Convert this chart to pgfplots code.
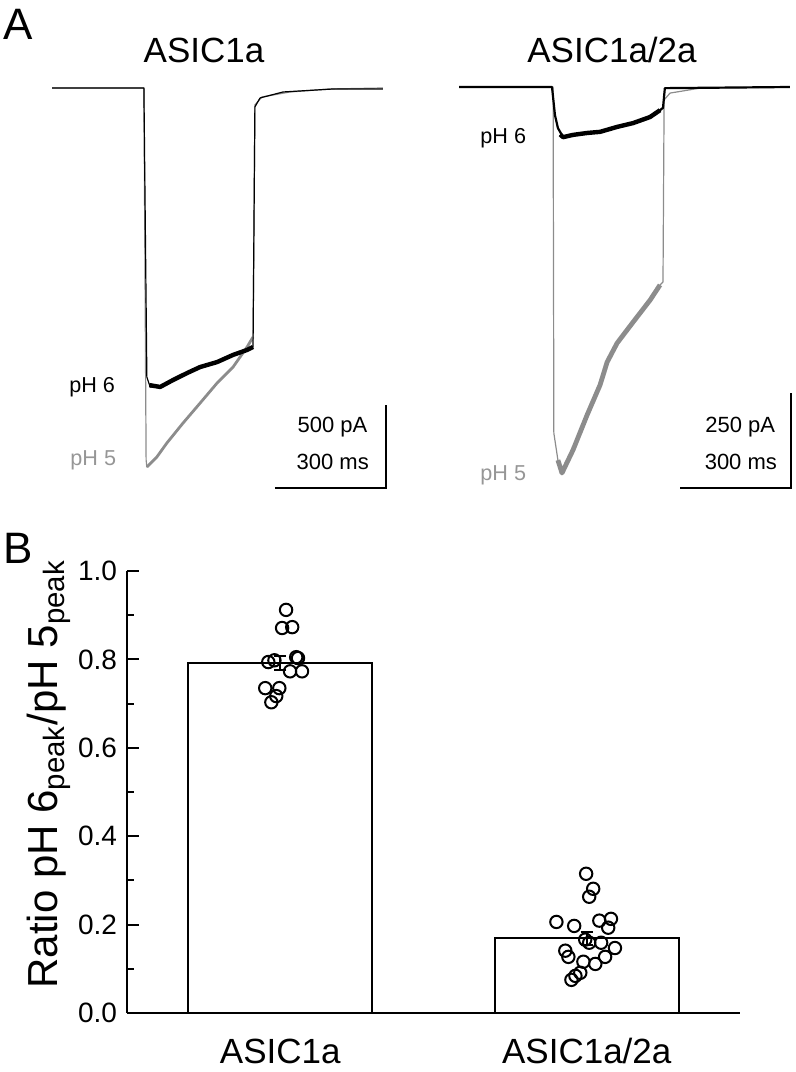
\documentclass[border=0pt]{standalone}
\usepackage{fontspec}
\setmainfont{Liberation Sans}
\usepackage{pgfplots}
\usepackage{pgfplotstable}
\pgfplotsset{compat=1.18}
\definecolor{tracegray}{RGB}{140,140,140}
\definecolor{labelgray}{RGB}{150,150,150}

% panel B: bar means (ratio pH 6 peak / pH 5 peak) and SEM
\pgfplotstableread{
x y e
1 0.792 0.016
2 0.169 0.015
}\barsdata

% single cells
\pgfplotstableread{
x y
1.019 0.912
1.006 0.871
1.039 0.873
0.961 0.794
0.981 0.798
1.052 0.805
1.058 0.803
1.032 0.773
1.071 0.773
0.951 0.735
0.997 0.735
0.987 0.717
0.971 0.703
1.998 0.315
2.021 0.281
2.008 0.263
1.901 0.206
1.959 0.197
2.041 0.209
2.079 0.213
2.070 0.193
1.995 0.166
2.008 0.159
2.047 0.159
2.092 0.147
1.930 0.141
1.940 0.127
1.989 0.116
2.060 0.127
2.028 0.111
1.979 0.091
1.963 0.084
1.950 0.075
}\cellsdata

\begin{document}
\begin{tikzpicture}
\useasboundingbox (0,0) rectangle (398pt,536pt);

\node[font=\fontsize{22}{22}\selectfont] at (9pt,524pt) {A};
\node[font=\fontsize{22}{22}\selectfont] at (9pt,262pt) {B};
\node[font=\fontsize{17.5}{17.5}\selectfont] at (102pt,511pt) {ASIC1a};
\node[font=\fontsize{17.5}{17.5}\selectfont] at (306pt,511pt) {ASIC1a/2a};

% ---- ASIC1a traces (ms, pA)
\begin{axis}[at={(20pt,286pt)}, anchor=south west, scale only axis,
  width=180pt, height=220pt,
  xmin=-283.8, xmax=689.2, ymin=-2482, ymax=168.7,
  hide axis, clip=false]
\addplot[tracegray, line width=0.6pt, line join=round] coordinates {
  (-251,0) (-3,0) (3,-2241) (5,-2283) (32,-2223) (59,-2139) (103,-2018)
  (149,-1898) (195,-1777) (238,-1681) (276,-1560) (292,-1500)
  (297,-102) (316,-54) (392,-24) (500,-6) (643,0)};
\addplot[tracegray, line width=1.4pt, line join=round] coordinates {
  (5,-2283) (32,-2223) (59,-2139) (103,-2018)
  (149,-1898) (195,-1777) (238,-1681) (276,-1560) (292,-1500)};
\addplot[black, line width=0.6pt, line join=round] coordinates {
  (-251,0) (-3,0) (5,-1741) (14,-1801) (41,-1801) (76,-1759) (114,-1717)
  (149,-1681) (195,-1651) (238,-1608) (276,-1578) (292,-1560)
  (297,-114) (311,-60) (373,-24) (508,-6) (643,-6)};
\addplot[black, line width=2.2pt, line join=round] coordinates {
  (12,-1790) (41,-1801) (76,-1759) (114,-1717)
  (149,-1681) (195,-1651) (238,-1608) (276,-1578) (292,-1560)};
% scale bar 300 ms / 500 pA
\addplot[black, line width=0.75pt] coordinates {(351,-2410) (651,-2410) (651,-1910)};
\node[anchor=east, font=\fontsize{10.8}{10.8}\selectfont] at (axis cs:-62,-1801) {pH 6};
\node[anchor=east, font=\fontsize{10.8}{10.8}\selectfont, text=labelgray] at (axis cs:-59,-2241) {pH 5};
\node[anchor=east, font=\fontsize{11}{11}\selectfont] at (axis cs:620,-2042) {500 pA};
\node[anchor=east, font=\fontsize{11}{11}\selectfont] at (axis cs:624,-2253) {300 ms};
\end{axis}

% ---- ASIC1a/2a traces (ms, pA)
\begin{axis}[at={(220pt,286pt)}, anchor=south west, scale only axis,
  width=178pt, height=220pt,
  xmin=-302.7, xmax=659.5, ymin=-1087, ymax=71.1,
  hide axis, clip=false]
\addplot[tracegray, line width=0.6pt, line join=round] coordinates {
  (-251,0) (3,0) (5,-911) (16,-982) (27,-1016) (57,-955) (95,-863)
  (130,-784) (149,-724) (176,-674) (219,-619) (265,-561) (292,-521) (300,-513)
  (303,-34) (319,-16) (400,-3) (643,0)};
\addplot[tracegray, line width=2.4pt, line join=round] coordinates {
  (16,-982) (27,-1016) (57,-955) (95,-863)
  (130,-784) (149,-724) (176,-674) (219,-619) (265,-561) (292,-521)};
\addplot[black, line width=1.1pt, line join=round] coordinates {
  (-251,0) (0,0) (8,-74) (16,-108) (30,-132) (57,-126) (95,-121)
  (130,-118) (176,-105) (219,-95) (265,-79) (292,-61) (300,-55)
  (305,-3) (643,0)};
\addplot[black, line width=2.2pt, line join=round] coordinates {
  (22,-125) (30,-132) (57,-126) (95,-121)
  (130,-118) (176,-105) (219,-95) (265,-79) (292,-61)};
% scale bar 300 ms / 250 pA
\addplot[black, line width=0.75pt] coordinates {(346,-1055) (646,-1055) (646,-805)};
\node[anchor=east, font=\fontsize{10.8}{10.8}\selectfont] at (axis cs:-51,-134) {pH 6};
\node[anchor=east, font=\fontsize{10.8}{10.8}\selectfont, text=labelgray] at (axis cs:-51,-1021) {pH 5};
\node[anchor=east, font=\fontsize{11}{11}\selectfont] at (axis cs:622,-895) {250 pA};
\node[anchor=east, font=\fontsize{11}{11}\selectfont] at (axis cs:627,-987) {300 ms};
\end{axis}

% ---- panel B
\begin{axis}[at={(63.5pt,29.5pt)}, anchor=south west, scale only axis,
  width=306.5pt, height=221pt,
  xmin=0.5, xmax=2.5, ymin=0, ymax=1,
  axis lines*=left, axis line style={line width=1pt},
  tick align=inside,
  ytick={0,0.2,0.4,0.6,0.8,1.0},
  minor ytick={0.1,0.3,0.5,0.7,0.9},
  major tick length=6pt, minor tick length=3.5pt,
  every tick/.style={black, line width=1pt},
  xtick={1,2}, xticklabels={ASIC1a,ASIC1a/2a},
  x tick style={draw=none},
  /pgf/number format/assume math mode=true,
  tick label style={font=\fontsize{14}{14}\selectfont},
  yticklabel style={xshift=-1.5pt, /pgf/number format/.cd, fixed, fixed zerofill, precision=1},
  xticklabel style={font=\fontsize{17.5}{17.5}\selectfont, anchor=base, yshift=-25pt},
  ylabel={Ratio pH 6\textsubscript{peak}/pH 5\textsubscript{peak}},
  ylabel style={font=\fontsize{21}{21}\selectfont, at={(axis description cs:-0.128,0.54)}, anchor=center},
  clip=false]
\addplot[ybar, bar width=0.6, fill=white, draw=black, line width=1pt,
  error bars/.cd, y dir=both, y explicit,
  error bar style={line width=0.9pt},
  error mark options={rotate=90, mark size=3pt, line width=0.9pt}]
  table[x=x, y=y, y error=e] {\barsdata};
\addplot[only marks, mark=o, mark size=3.1pt, mark options={line width=1pt, black}]
  table[x=x, y=y] {\cellsdata};
\end{axis}
\end{tikzpicture}
\end{document}
